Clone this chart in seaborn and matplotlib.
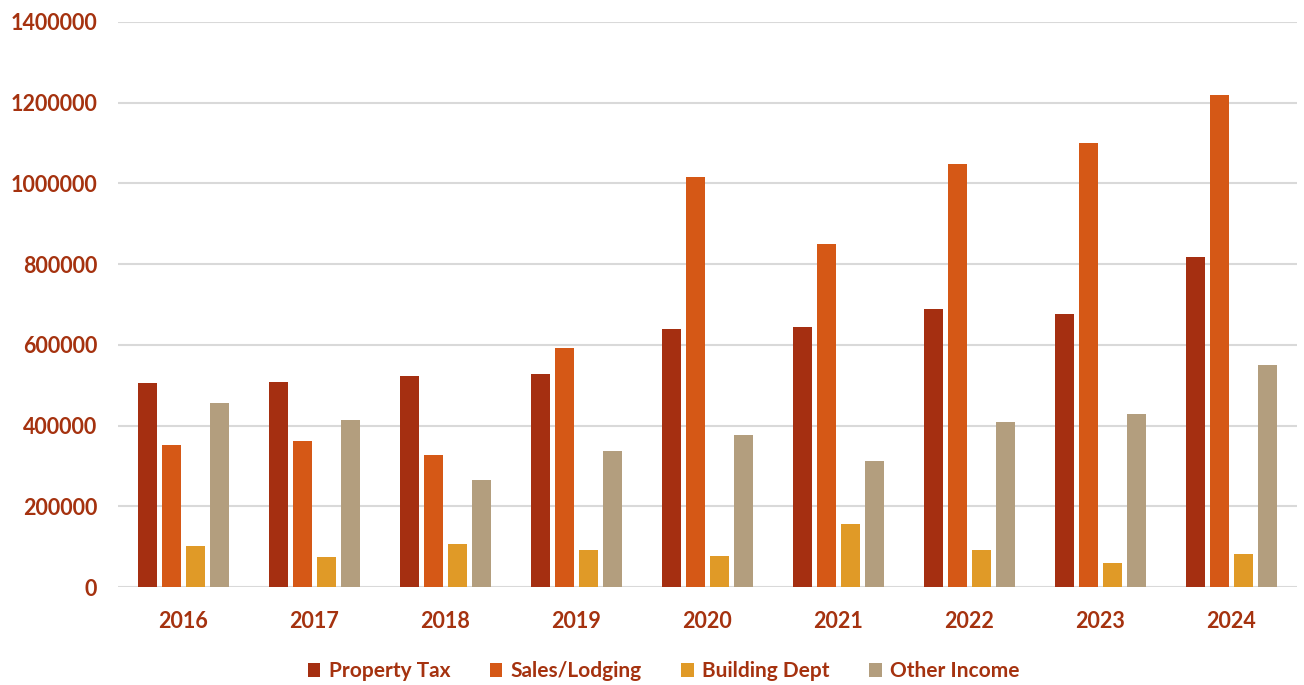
import pandas as pd
import matplotlib
matplotlib.use("Agg")
import matplotlib.pyplot as plt
import seaborn as sns

years = ["2016", "2017", "2018", "2019", "2020", "2021", "2022", "2023", "2024"]
property_tax = [505000, 507000, 522000, 527000, 640000, 643000, 688000, 676000, 817000]
sales_lodging = [351000, 363000, 327000, 591000, 1017000, 849000, 1048000, 1099000, 1218000]
building_dept = [101000, 74000, 107000, 93000, 77000, 155000, 93000, 59000, 81000]
other_income = [456000, 414000, 264000, 338000, 376000, 312000, 408000, 428000, 551000]

series = ["Property Tax", "Sales/Lodging", "Building Dept", "Other Income"]
colors = ["#A52F11", "#D55816", "#E09A27", "#B39E7E"]
text_color = "#A5320F"

rows = []
for name, vals in zip(series, [property_tax, sales_lodging, building_dept, other_income]):
    for y, v in zip(years, vals):
        rows.append({"Year": y, "Series": name, "Value": v})
df = pd.DataFrame(rows)

sns.set_theme(style="white")
plt.rcParams["font.family"] = ["Lato", "DejaVu Sans"]

fig = plt.figure(figsize=(13.04, 6.85), dpi=100)
ax = fig.add_axes([0.0905, 0.143, 0.9041, 0.825])

sns.barplot(data=df, x="Year", y="Value", hue="Series", order=years,
            hue_order=series, palette=colors, width=0.73, gap=0.2,
            saturation=1, edgecolor="none", ax=ax, zorder=3)

ax.set_xlim(-0.5, 8.5)
ax.set_ylim(0, 1400000)
ax.set_yticks(range(0, 1400001, 200000))
ax.set_yticklabels([str(v) for v in range(0, 1400001, 200000)])
ax.yaxis.grid(True, color="#D9D9D9", linewidth=1.5, zorder=0)
ax.set_axisbelow(True)
for s in ax.spines.values():
    s.set_visible(False)
ax.set_xlabel("")
ax.set_ylabel("")
ax.tick_params(axis="both", length=0, labelsize=15.5, labelcolor=text_color)
ax.tick_params(axis="y", pad=15)
ax.tick_params(axis="x", pad=17)
for lab in ax.get_xticklabels() + ax.get_yticklabels():
    lab.set_fontweight("bold")

handles, labels = ax.get_legend_handles_labels()
ax.legend_.remove()
fig.legend(handles, labels, loc="center", bbox_to_anchor=(0.509, 0.02), ncol=4,
           frameon=False, handlelength=0.6, handleheight=0.6, handletextpad=0.4,
           columnspacing=1.9, prop={"size": 15, "weight": "bold"},
           labelcolor=text_color)

fig.savefig("out.png", dpi=100)
